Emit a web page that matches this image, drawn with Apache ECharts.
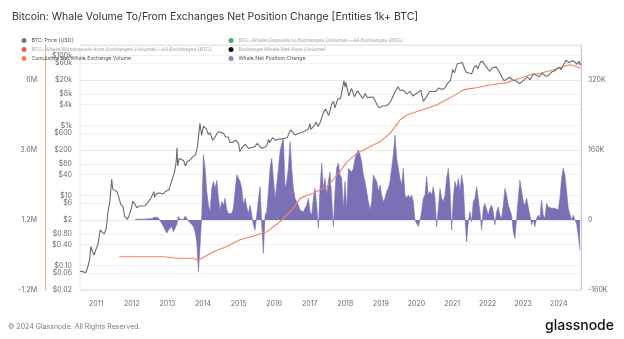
<!DOCTYPE html>
<html><head><meta charset="utf-8">
<script src="https://cdn.jsdelivr.net/npm/echarts@6/dist/echarts.min.js"></script>
<style>html,body{margin:0;padding:0;background:#fff}#c{width:624px;height:339px}</style>
</head><body><div id="c"></div>
<script>
// ---- data ----
const priceDates = ['2010-07-18','2010-08-01','2010-08-20','2010-09-15','2010-10-10','2010-10-25','2010-11-07','2010-11-20','2010-12-10','2010-12-31',
'2011-01-20','2011-02-10','2011-03-01','2011-03-25','2011-04-15','2011-04-30','2011-05-20','2011-06-08','2011-06-20','2011-07-10','2011-08-01','2011-08-20','2011-09-10','2011-10-01','2011-10-20','2011-11-18','2011-12-10','2011-12-31',
'2012-01-10','2012-02-01','2012-02-20','2012-03-15','2012-04-15','2012-05-15','2012-06-15','2012-07-15','2012-08-16','2012-08-20','2012-09-15','2012-10-15','2012-11-15','2012-12-15',
'2013-01-15','2013-02-15','2013-03-15','2013-03-31','2013-04-09','2013-04-16','2013-05-01','2013-05-20','2013-06-15','2013-07-05','2013-07-25','2013-08-15','2013-09-15','2013-10-15','2013-11-05','2013-11-30','2013-12-18',
'2014-01-05','2014-02-05','2014-02-25','2014-03-15','2014-04-10','2014-05-01','2014-06-01','2014-07-01','2014-08-01','2014-08-20','2014-09-15','2014-10-05','2014-11-01','2014-12-01','2014-12-31',
'2015-01-14','2015-02-01','2015-03-10','2015-04-15','2015-05-15','2015-06-15','2015-07-12','2015-08-20','2015-09-15','2015-10-15','2015-11-04','2015-11-15','2015-12-15',
'2016-01-15','2016-02-15','2016-03-15','2016-04-15','2016-05-15','2016-06-17','2016-07-01','2016-08-02','2016-09-15','2016-10-15','2016-11-15','2016-12-15',
'2017-01-04','2017-01-12','2017-02-15','2017-03-10','2017-03-25','2017-04-15','2017-05-25','2017-06-11','2017-07-15','2017-08-15','2017-09-01','2017-09-15','2017-10-15','2017-11-12','2017-11-28','2017-12-17','2017-12-30',
'2018-01-06','2018-02-06','2018-03-05','2018-04-06','2018-05-05','2018-06-28','2018-07-25','2018-08-14','2018-09-15','2018-10-15','2018-11-25','2018-12-15',
'2019-01-15','2019-02-15','2019-03-15','2019-04-15','2019-05-15','2019-06-26','2019-07-15','2019-08-15','2019-09-26','2019-10-26','2019-11-25','2019-12-15',
'2020-01-15','2020-02-14','2020-03-12','2020-04-15','2020-05-15','2020-06-15','2020-07-15','2020-08-15','2020-09-15','2020-10-15','2020-11-15','2020-12-15',
'2021-01-08','2021-01-25','2021-02-21','2021-03-13','2021-04-14','2021-05-23','2021-06-22','2021-07-20','2021-08-15','2021-09-07','2021-09-21','2021-10-20','2021-11-10','2021-12-15',
'2022-01-22','2022-02-15','2022-03-29','2022-04-15','2022-05-12','2022-06-18','2022-07-15','2022-08-15','2022-09-15','2022-10-15','2022-11-21','2022-12-15',
'2023-01-15','2023-02-15','2023-03-10','2023-04-14','2023-05-15','2023-06-15','2023-07-13','2023-08-18','2023-09-15','2023-10-25','2023-11-15','2023-12-15',
'2024-01-11','2024-01-23','2024-02-15','2024-03-14','2024-04-15','2024-05-01','2024-05-21','2024-06-15','2024-07-05','2024-07-29','2024-08-05','2024-08-15'];
const priceValues = [0.07,0.065,0.066,0.062,0.1,0.15,0.35,0.26,0.2,0.3,
0.42,1.05,0.9,0.8,1.2,3.3,6.5,29,15,14.5,13,9,5.5,5,2.5,2.1,3,4.7,
6.8,5.8,4.5,5,5,5.1,6.4,8.5,13,9,11.5,11.8,11,13.3,
14.5,27,47,93,230,70,115,123,100,70,95,100,125,145,250,1150,520,
950,800,550,630,380,450,650,640,590,480,470,330,330,380,315,
180,225,290,220,237,245,310,230,230,260,400,320,450,
380,405,415,425,455,750,680,540,610,640,710,780,
1130,780,1000,1250,930,1180,2500,2950,1950,4200,4900,3200,5700,5900,9800,19300,12500,
17000,6900,11500,6600,9800,5900,8300,6200,6500,6450,3800,3200,
3600,3600,3900,5100,8000,12900,10200,10300,8000,9500,7000,7100,
8800,10300,4900,6800,9400,9400,9200,11800,10800,11500,16000,19400,
40000,32000,57000,61000,63500,34000,31600,29800,47000,52000,41000,66000,68000,48000,
35000,44000,47500,40000,29000,19000,21000,24000,20000,19100,15800,17300,
20900,24300,20000,30400,27300,25100,31300,26100,26600,34500,36000,42000,
46500,39500,52000,73000,63000,57000,71000,66000,56000,69000,54000,58500];

const cumDates = ['2011-08-25','2012-11-20','2013-04-10','2013-09-20','2013-11-15','2014-01-15','2014-04-20','2014-09-01','2015-01-15','2015-06-01','2015-10-20',
'2016-03-01','2016-07-15','2016-09-25','2017-02-05','2017-06-25','2017-11-05','2018-01-10','2018-04-20','2018-09-10','2018-12-25','2019-04-05','2019-05-28','2019-07-15','2019-09-25',
'2020-01-01','2020-04-15','2020-07-25','2020-11-05','2021-02-01','2021-04-25','2021-08-10','2022-01-25','2022-07-15','2022-11-28','2023-03-10','2023-06-20','2023-11-05','2024-02-15','2024-04-22','2024-06-15','2024-08-15'];
const cumValues = [-0.06,-0.06,-0.11,-0.11,-0.18,-0.06,0.11,0.29,0.52,0.65,0.8,
1.14,1.6,1.95,2.12,2.34,2.85,3.16,3.46,3.71,3.89,4.17,4.4,4.63,4.8,
4.91,5.03,5.14,5.32,5.49,5.66,5.72,5.83,5.91,6.06,6.17,6.23,6.34,6.46,6.52,6.48,6.4];

// Whale Net Position Change, thousands of BTC, sampled every ~17.1 days from 2012-02-04
const netStartDate = '2012-02-04';
const netStepDays = 17.1;
const netValues = [1.5,1.5,2,1.5,2,3,2,4,3,4.5,
3,5,7,9,5,-2,-8,-15,-23,-30,
-23,-19,-15,-27,-19,-10,8,2,4,1,
9,4,-2,-5,-10,-15,-27,-50,-118,-57,
11,149,118,65,34,19,72,88,72,91,
50,23,42,34,50,23,15,11,15,27,
65,103,99,88,72,34,50,30,15,34,
30,-11,-23,11,46,76,-11,-76,11,19,
65,118,141,95,50,80,118,156,175,187,
72,88,118,179,118,72,50,42,34,23,
19,19,27,34,50,19,11,50,72,34,
-19,72,130,72,95,57,88,110,50,-15,
65,120,130,
103,95,27,88,23,118,122,110,118,141,
152,160,149,133,103,88,65,42,23,42,
103,95,88,65,80,57,42,50,65,72,
88,118,149,194,141,118,95,80,118,57,
50,57,50,57,42,0,-8,-15,0,19,
50,57,99,57,65,57,76,50,-15,27,
72,50,42,57,95,118,72,-23,50,88,
72,95,65,103,80,4,-50,-4,19,-4,
42,50,76,72,19,-23,27,38,34,11,
27,34,19,-11,19,30,11,4,34,72,
57,34,23,11,-27,-42,4,50,91,88,
42,34,50,30,11,-11,0,-15,4,11,
4,46,11,4,38,30,34,27,23,27,
23,23,50,95,118,103,65,27,23,0,
11,0,-8,-34,-69];

const priceTicks = [0.02,0.06,0.1,0.4,0.8,2,6,10,40,80,200,600,1000,4000,8000,20000,60000,100000];

const names = {
  price: 'BTC: Price [USD]',
  wd: 'BTC: Whale Withdrawals from Exchanges (Volume) – All Exchanges [BTC]',
  cum: 'Cumulative Net Whale Exchange Volume',
  dep: 'BTC: Whale Deposits to Exchanges (Volume) – All Exchanges [BTC]',
  flow: 'Exchange Whale Net-flow (Volume)',
  net: 'Whale Net Position Change'
};

// ---- build series tables ----
const priceData = priceDates.map((d, i) => [d, priceValues[i]]);
const cumData = cumDates.map((d, i) => [d, cumValues[i]]);
const t0 = new Date(netStartDate + 'T00:00:00').getTime();
const netData = netValues.map((v, i) => [t0 + i * netStepDays * 86400000, v]);

function fmtPrice(v) {
  if (v >= 1000) return '$' + Math.round(v / 1000) + 'k';
  if (v < 1) return '$' + v.toFixed(2);
  return '$' + Math.round(v);
}

const FONT = 'Inter';
const LEG_FS = 5.2, LEG_ROW = 9, LEG_TOP = 38, ICON = 5, ICON_GAP = 5;
const LEG_COLS = [21.5, 228.5];
const axisText = { fontSize: 7, color: '#6b6b6b', fontFamily: FONT };
const inactive = { color: '#b5b5b5' };
const YEAR = 365 * 86400000;

// strike-through for disabled legend entries (measured on the real legend text)
const mctx = document.createElement('canvas').getContext('2d');
mctx.font = LEG_FS + 'px ' + FONT;
function strike(col, row, text) {
  const x = LEG_COLS[col] + ICON + ICON_GAP;
  const y = LEG_TOP + row * LEG_ROW + ICON / 2 + 0.5;
  const w = mctx.measureText(text).width;
  return { type: 'line', silent: true, z: 200,
    shape: { x1: x, y1: y, x2: x + w, y2: y }, style: { stroke: '#c4c4c4', lineWidth: 0.6 } };
}

const legendBase = {
  orient: 'vertical', top: LEG_TOP, padding: 0, itemGap: LEG_ROW - ICON, itemWidth: ICON, itemHeight: ICON,
  icon: 'circle', selectedMode: false,
  textStyle: { fontSize: LEG_FS, color: '#555', fontFamily: FONT, lineHeight: ICON }
};

const chart = echarts.init(document.getElementById('c'), null, { renderer: 'canvas' });
chart.setOption({
  animation: false,
  backgroundColor: '#ffffff',
  title: {
    text: 'Bitcoin: Whale Volume To/From Exchanges Net Position Change [Entities 1k+ BTC]',
    left: 7, top: 6,
    textStyle: { fontSize: 10.5, fontWeight: 'normal', color: '#333', fontFamily: FONT }
  },
  legend: [
    Object.assign({}, legendBase, { left: LEG_COLS[0],
      data: [{ name: names.price }, { name: names.wd, textStyle: inactive }, { name: names.cum }] }),
    Object.assign({}, legendBase, { left: LEG_COLS[1],
      data: [{ name: names.dep, textStyle: inactive }, { name: names.flow, textStyle: inactive }, { name: names.net }] })
  ],
  grid: { left: 80, right: 43, top: 45, bottom: 49, show: true, borderColor: '#e6e6e6', borderWidth: 1 },
  xAxis: {
    type: 'time', min: '2010-07-18', max: '2024-08-16',
    minInterval: YEAR, maxInterval: YEAR * 1.01,
    axisLine: { show: false }, axisTick: { show: false }, splitLine: { show: false },
    axisLabel: Object.assign({ margin: 10, formatter: v => String(new Date(v).getFullYear()) }, axisText)
  },
  yAxis: [{
    type: 'log', logBase: 10, min: 0.02, max: 200000, position: 'left',
    axisLine: { show: false }, axisTick: { show: false, customValues: priceTicks },
    splitLine: { show: true, lineStyle: { color: '#f1f1f1', width: 1 } },
    axisLabel: Object.assign({ margin: 8, customValues: priceTicks, formatter: fmtPrice }, axisText)
  }, {
    type: 'value', min: -1.2, max: 7.2, interval: 2.4, position: 'left', offset: 35,
    axisLine: { show: true, lineStyle: { color: '#f3a58d', width: 1 } }, axisTick: { show: false },
    splitLine: { show: false },
    axisLabel: Object.assign({ margin: 8, showMaxLabel: false, formatter: v => (Math.round(v * 10) / 10) + 'M' }, axisText)
  }, {
    type: 'value', min: -160, max: 400, interval: 160, position: 'right',
    axisLine: { show: true, lineStyle: { color: '#cdc8ec', width: 1 } }, axisTick: { show: false },
    splitLine: { show: true, lineStyle: { color: '#e6e6e6', width: 1 } },
    axisLabel: Object.assign({ margin: 7, showMaxLabel: false, formatter: v => v === 0 ? '0' : v + 'K' }, axisText)
  }],
  series: [{
    name: names.net, type: 'line', yAxisIndex: 2, data: netData, showSymbol: false, symbol: 'none',
    color: '#8a82c6',
    lineStyle: { width: 0.6, color: '#7a70b6' }, areaStyle: { color: '#7a70b6', opacity: 1 }, z: 1
  }, {
    name: names.cum, type: 'line', yAxisIndex: 1, data: cumData, showSymbol: false, symbol: 'none',
    color: '#f08462', lineStyle: { width: 1.1, color: '#f08462' }, z: 3
  }, {
    name: names.price, type: 'line', yAxisIndex: 0, data: priceData, showSymbol: false, symbol: 'none',
    color: '#777777', lineStyle: { width: 1.1, color: '#6c6c6c' }, z: 4
  }, {
    name: names.wd, type: 'line', yAxisIndex: 2, data: [], color: '#ea5b55'
  }, {
    name: names.dep, type: 'line', yAxisIndex: 2, data: [], color: '#3fb26b'
  }, {
    name: names.flow, type: 'line', yAxisIndex: 2, data: [], color: '#111111'
  }],
  graphic: [{
    type: 'text', left: 8, top: 323,
    style: { text: '© 2024 Glassnode. All Rights Reserved.', fontSize: 7, fill: '#7a7a7a', fontFamily: FONT }
  }, {
    type: 'text', left: 545, top: 319,
    style: { text: 'glassnode', fontSize: 14, fill: '#111', fontFamily: FONT, fontWeight: 500 }
  },
  strike(0, 1, names.wd), strike(1, 0, names.dep), strike(1, 1, names.flow)]
});
</script>
</body></html>
